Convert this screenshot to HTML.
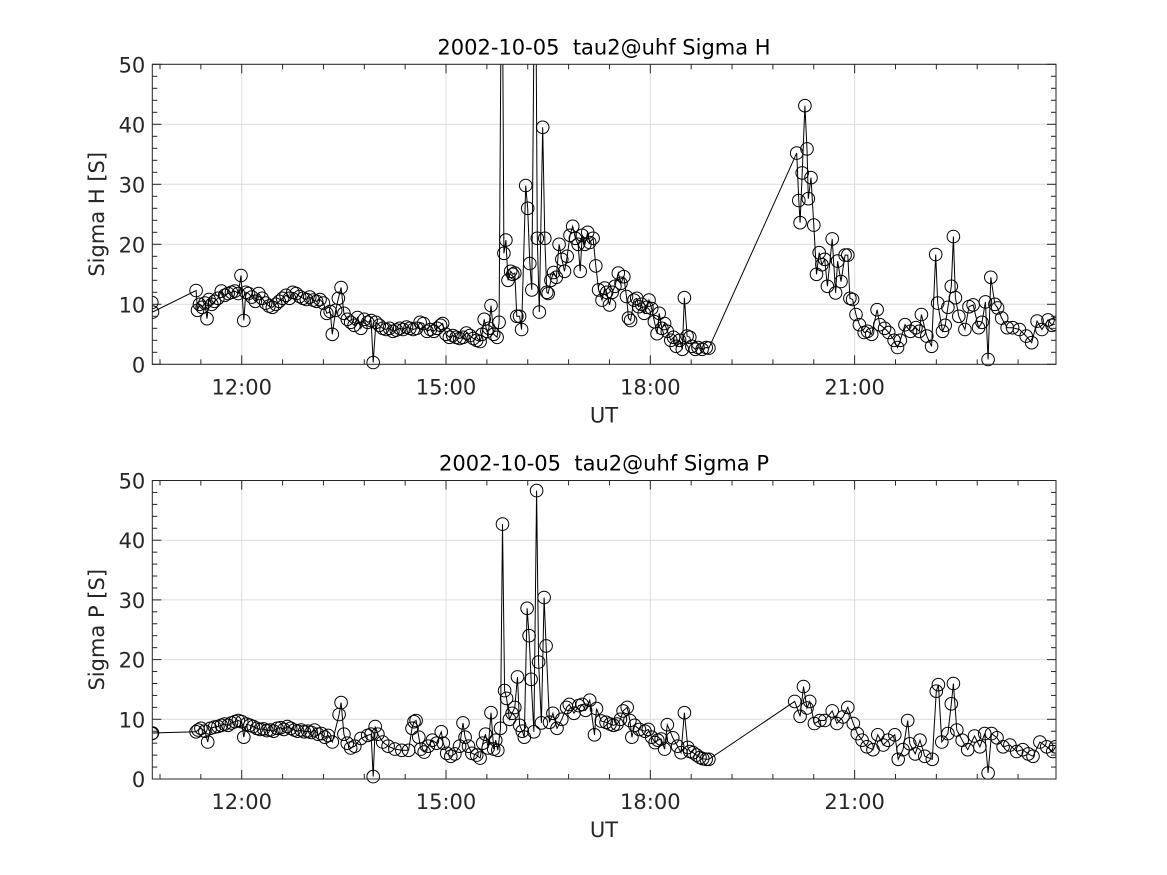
<!DOCTYPE html>
<html><head><meta charset="utf-8"><style>
html,body{margin:0;padding:0;background:#fff;}
svg{display:block;font-family:"DejaVu Sans","Liberation Sans",sans-serif;}
</style></head><body>
<svg id="chart" width="1167" height="875" viewBox="0 0 1167 875" xmlns="http://www.w3.org/2000/svg">
<rect width="1167" height="875" fill="#fff"/>
</svg>
<script>
// ---- data: [UT hour, value] ----
const hData = [[10.68,10.3],[10.69,8.7],
[11.33,12.3],[11.35,9.0],[11.38,10.0],[11.42,9.5],[11.46,10.2],[11.49,7.6],[11.52,10.8],[11.56,10.0],[11.60,10.5],[11.65,11.0],[11.70,12.2],[11.75,11.5],[11.80,11.8],[11.85,12.0],[11.90,12.2],[11.95,11.8],[11.99,14.8],[12.03,7.3],[12.06,12.0],[12.10,11.8],[12.15,11.2],[12.20,10.5],[12.25,11.8],[12.30,11.0],[12.35,10.2],[12.40,9.7],[12.45,9.5],[12.50,10.0],[12.55,10.5],[12.60,11.0],[12.65,11.5],[12.70,11.0],[12.75,12.0],[12.80,11.8],[12.85,11.3],[12.90,11.0],[12.95,10.8],[13.00,11.2],[13.05,10.7],[13.10,10.5],[13.15,10.8],[13.20,10.2],[13.25,8.5],[13.30,8.8],[13.33,5.0],[13.38,9.0],[13.42,11.0],[13.46,12.8],[13.50,8.5],[13.55,7.5],[13.60,7.0],[13.65,6.5],[13.70,7.8],[13.75,6.0],[13.80,7.5],[13.85,7.0],[13.90,7.3],[13.93,0.3],[13.97,7.0],
[14.02,6.5],[14.07,6.0],[14.12,5.8],[14.17,6.0],[14.22,5.5],[14.27,5.7],[14.32,6.0],[14.37,5.8],[14.42,6.2],[14.47,6.0],[14.52,5.8],[14.57,6.0],[14.62,7.0],[14.67,6.8],[14.72,5.5],[14.77,5.8],[14.82,5.5],[14.87,6.0],[14.92,6.5],[14.95,6.8],[15.00,5.0],[15.05,4.5],[15.10,4.8],[15.15,4.5],[15.20,4.3],[15.25,4.5],[15.30,5.2],[15.35,4.8],[15.40,4.3],[15.45,4.0],[15.50,3.8],[15.53,5.0],[15.56,7.5],[15.60,5.5],[15.63,6.0],[15.66,9.8],[15.70,5.0],[15.75,4.5],[15.78,7.0],[15.82,80],[15.85,18.5],[15.88,20.7],[15.91,14.0],[15.95,15.5],[15.98,15.0],[16.01,15.2],[16.04,8.0],[16.08,8.0],[16.11,5.8],[16.17,29.8],[16.20,26.0],[16.23,16.8],[16.26,12.4],[16.31,80],[16.34,21.0],[16.37,8.7],[16.42,39.5],[16.45,21.0],[16.48,12.0],[16.50,11.8],
[16.54,14.0],[16.58,15.3],[16.62,14.5],[16.66,20.0],[16.70,17.5],[16.74,15.5],[16.78,18.0],[16.82,21.5],[16.86,23.0],[16.90,21.0],[16.94,20.0],[16.97,15.5],[17.00,21.5],[17.04,20.0],[17.08,22.0],[17.11,20.3],[17.16,21.0],[17.20,16.4],[17.24,12.4],[17.29,10.7],[17.33,12.7],[17.36,12.0],[17.40,9.9],[17.44,12.0],[17.48,13.0],[17.53,15.2],[17.57,13.5],[17.61,14.6],[17.65,11.3],[17.68,7.7],[17.71,7.3],[17.76,10.7],[17.80,11.0],[17.83,9.6],[17.87,10.0],[17.91,8.5],[17.95,9.5],[17.98,10.7],[18.02,9.3],[18.06,7.1],[18.10,5.1],[18.13,8.5],[18.17,6.0],[18.21,6.8],[18.25,5.5],[18.30,4.0],[18.34,4.5],[18.38,3.0],[18.43,4.0],[18.47,2.5],[18.50,11.1],[18.54,4.7],[18.58,4.5],[18.61,3.0],[18.66,2.5],[18.70,2.8],[18.76,2.5],[18.82,2.8],[18.86,2.7],
[20.15,35.2],[20.18,27.3],[20.20,23.6],[20.23,31.9],[20.27,43.1],[20.30,35.9],[20.32,27.6],[20.36,31.1],[20.40,23.2],[20.44,15.0],[20.48,18.6],[20.52,16.6],[20.56,17.5],[20.60,13.0],[20.67,20.9],[20.72,11.9],[20.75,17.2],[20.80,13.8],[20.86,18.2],[20.90,18.2],[20.93,11.0],[20.97,10.8],[21.02,8.3],[21.07,6.6],[21.14,5.3],[21.19,5.5],[21.25,5.0],[21.33,9.1],[21.37,6.6],[21.44,6.0],[21.50,5.3],[21.58,4.0],[21.63,2.8],[21.67,4.0],[21.74,6.6],[21.82,5.5],[21.90,6.1],[21.95,5.5],[21.98,8.3],[22.06,4.7],[22.13,3.0],[22.19,18.3],[22.22,10.2],[22.29,5.5],[22.33,6.5],[22.37,9.5],[22.42,13.0],[22.45,21.3],[22.48,11.1],[22.53,8.0],[22.62,5.8],[22.68,9.6],[22.74,9.9],[22.82,6.1],[22.87,7.0],[22.92,10.4],[22.96,0.8],[23.00,14.5],[23.06,10.0],[23.10,9.4],[23.16,7.7],[23.24,6.1],[23.32,6.1],[23.42,5.8],[23.52,4.7],[23.60,3.6],[23.68,7.2],[23.75,5.8],[23.84,7.4],[23.90,6.5],[23.94,6.7]];
const pData = [[10.68,7.6],[10.69,7.7],
[11.33,7.9],[11.36,8.2],[11.40,8.5],[11.46,8.0],[11.50,6.2],[11.54,8.5],[11.60,8.7],[11.65,8.8],[11.70,9.0],[11.75,9.2],[11.80,9.0],[11.85,9.4],[11.90,9.6],[11.95,9.8],[12.00,9.6],[12.03,7.0],[12.07,9.2],[12.12,9.0],[12.17,8.8],[12.22,8.5],[12.27,8.3],[12.32,8.4],[12.37,8.1],[12.42,8.2],[12.47,8.0],[12.52,8.5],[12.57,8.6],[12.62,8.3],[12.67,8.8],[12.72,8.5],[12.77,8.2],[12.82,8.0],[12.87,8.2],[12.92,7.9],[12.97,8.0],[13.02,7.8],[13.07,8.2],[13.12,7.5],[13.17,7.6],[13.22,7.0],[13.27,7.3],[13.33,6.2],[13.43,10.8],[13.46,12.8],[13.50,7.5],[13.55,6.0],[13.60,5.2],[13.66,5.5],[13.75,6.8],[13.85,7.3],[13.90,7.5],[13.93,0.4],[13.96,8.8],[14.00,7.5],[14.07,6.2],[14.15,5.5],[14.25,5.0],[14.35,4.8],[14.45,4.8],[14.50,8.5],[14.53,9.6],[14.56,9.8],[14.60,7.0],[14.63,5.0],[14.68,4.5],[14.74,5.5],[14.80,6.5],[14.86,6.0],[14.93,7.9],[14.96,6.0],[15.01,4.3],[15.07,3.8],[15.13,4.2],[15.20,5.5],[15.25,9.4],[15.28,7.0],[15.33,5.5],[15.38,4.3],[15.45,4.0],[15.50,3.5],[15.54,6.0],[15.58,7.5],[15.62,5.2],[15.66,11.1],[15.70,5.0],[15.73,6.5],[15.76,4.8],[15.80,8.5],[15.83,42.7],[15.86,14.8],[15.89,13.5],[15.93,10.0],[15.97,11.0],[16.01,12.0],[16.05,17.1],[16.08,9.0],[16.12,8.0],[16.15,7.0],[16.19,28.6],[16.22,24.0],[16.25,16.7],[16.29,7.9],[16.33,48.3],[16.36,19.6],[16.40,9.4],[16.44,30.4],[16.47,22.3],[16.52,9.5],[16.57,11.0],[16.63,8.5],[16.70,10.0],[16.77,12.0],[16.81,12.5],[16.88,11.0],[16.95,12.3],[17.00,12.5],[17.05,11.5],[17.11,13.2],[17.18,7.4],[17.21,11.8],[17.28,9.7],[17.35,9.5],[17.41,9.2],[17.46,9.0],[17.51,9.2],[17.56,10.0],[17.60,11.4],[17.66,12.0],[17.70,9.8],[17.73,7.0],[17.77,9.0],[17.84,8.3],[17.92,8.0],[17.97,8.3],[18.02,7.0],[18.07,6.1],[18.11,6.5],[18.16,6.7],[18.21,5.0],[18.25,9.1],[18.33,6.9],[18.40,5.5],[18.45,4.4],[18.50,11.1],[18.55,5.3],[18.58,4.6],[18.63,4.4],[18.68,4.0],[18.73,3.6],[18.77,3.4],[18.82,3.3],[18.86,3.3],
[20.12,13.0],[20.20,10.5],[20.25,15.5],[20.30,11.9],[20.34,13.0],[20.41,9.3],[20.49,9.8],[20.56,9.8],[20.67,11.4],[20.74,9.3],[20.83,10.4],[20.90,12.0],[20.98,9.3],[21.04,7.6],[21.11,6.5],[21.18,5.4],[21.27,4.9],[21.34,7.4],[21.42,5.7],[21.49,6.5],[21.59,7.4],[21.64,3.3],[21.71,4.9],[21.78,9.8],[21.81,5.9],[21.89,4.2],[21.96,6.5],[22.03,3.8],[22.14,3.3],[22.20,14.7],[22.23,15.8],[22.28,6.2],[22.37,7.6],[22.42,12.6],[22.45,16.0],[22.50,8.2],[22.58,6.5],[22.66,4.9],[22.76,7.2],[22.84,5.4],[22.91,7.6],[22.96,1.0],[23.01,7.6],[23.09,6.9],[23.18,5.4],[23.28,5.7],[23.38,4.6],[23.47,4.9],[23.55,4.2],[23.62,3.8],[23.72,6.2],[23.82,5.4],[23.91,4.6],[23.95,5.4]];
const xTickLabels = ["12:00","15:00","18:00","21:00"];
const xTickHours = [12,15,18,21];
const yTicks = [0,10,20,30,40,50];

const NS = "http://www.w3.org/2000/svg";
const svg = document.getElementById("chart");
const X0 = 152.3, X1 = 1056, T0 = 10.687, T1 = 23.957;
function xs(t){ return X0 + (t - T0) / (T1 - T0) * (X1 - X0); }
function mk(tag, attrs, parent){ const e = document.createElementNS(NS, tag); for (const k in attrs) e.setAttribute(k, attrs[k]); (parent||svg).appendChild(e); return e; }

function panel(id, top, bottom, title, ylab, data){
  const g = mk("g", {});
  
  
  const ys = v => bottom - v / 50 * (bottom - top);
  xTickHours.forEach(h => { mk("line", {x1:xs(h), x2:xs(h), y1:top, y2:bottom, stroke:"#dcdcdc", "stroke-width":1}, g); });
  yTicks.forEach(v => { mk("line", {x1:X0, x2:X1, y1:ys(v), y2:ys(v), stroke:"#dcdcdc", "stroke-width":1}, g); });
  const clipId = "clip-" + id;
  const cp = mk("clipPath", {id: clipId}, g);
  mk("rect", {x:X0, y:top, width:X1-X0, height:bottom-top+8}, cp);
  const dg = mk("g", {"clip-path": "url(#" + clipId + ")"}, g);
  let d = "";
  data.forEach((p, i) => { d += (i ? "L" : "M") + xs(p[0]).toFixed(1) + "," + ys(p[1]).toFixed(1); });
  const line = mk("path", {d: d, fill:"none", stroke:"#000", "stroke-width":1}, dg);
  
  
  data.forEach(p => {
    const c = mk("circle", {cx:xs(p[0]).toFixed(1), cy:ys(p[1]).toFixed(1), r:6.3, fill:"none", stroke:"#000", "stroke-width":1}, dg);
    
    
  });
  mk("rect", {x:X0, y:top, width:X1-X0, height:bottom-top, fill:"none", stroke:"#262626", "stroke-width":1}, g);
  for (let k = -3; k <= 20; k++) {
    const h = 12 + k * 0.6; if (h < T0 || h > T1) continue;
    const L = (k % 5 === 0) ? 9 : 5;
    mk("line", {x1:xs(h), x2:xs(h), y1:bottom, y2:bottom-L, stroke:"#262626"}, g);
    mk("line", {x1:xs(h), x2:xs(h), y1:top, y2:top+L, stroke:"#262626"}, g);
  }
  for (let v = 0; v <= 50; v += 2) {
    const L = (v % 10 === 0) ? 9 : 5;
    mk("line", {x1:X0, x2:X0+L, y1:ys(v), y2:ys(v), stroke:"#262626"}, g);
    mk("line", {x1:X1, x2:X1-L, y1:ys(v), y2:ys(v), stroke:"#262626"}, g);
  }
  xTickLabels.forEach((lab, i) => {
    const t = mk("text", {x:xs(xTickHours[i]), y:bottom+30, "text-anchor":"middle", "font-size":21, fill:"#262626"}, g);
    t.textContent = lab;
    
    
  });
  yTicks.forEach(v => {
    const t = mk("text", {x:X0-7, y:ys(v)+8, "text-anchor":"end", "font-size":21, fill:"#262626"}, g);
    t.textContent = v;
    
    
  });
  const tt = mk("text", {x:604, y:top-10, "text-anchor":"middle", "font-size":21, fill:"#000", style:"white-space:pre"}, g);
  tt.textContent = title;
  
  
  const xl = mk("text", {x:604, y:bottom+58, "text-anchor":"middle", "font-size":21, fill:"#262626"}, g);
  xl.textContent = "UT";
  
  
  const cy = (top + bottom) / 2;
  const yl = mk("text", {x:104, y:cy, "text-anchor":"middle", "font-size":21, fill:"#262626", transform:"rotate(-90 104 " + cy + ")"}, g);
  yl.textContent = ylab;
  
  
}
panel("sigma-h", 64.3, 364.3, "2002-10-05  tau2@uhf Sigma H", "Sigma H [S]", hData);
panel("sigma-p", 480.5, 779, "2002-10-05  tau2@uhf Sigma P", "Sigma P [S]", pData);
</script>
</body></html>
